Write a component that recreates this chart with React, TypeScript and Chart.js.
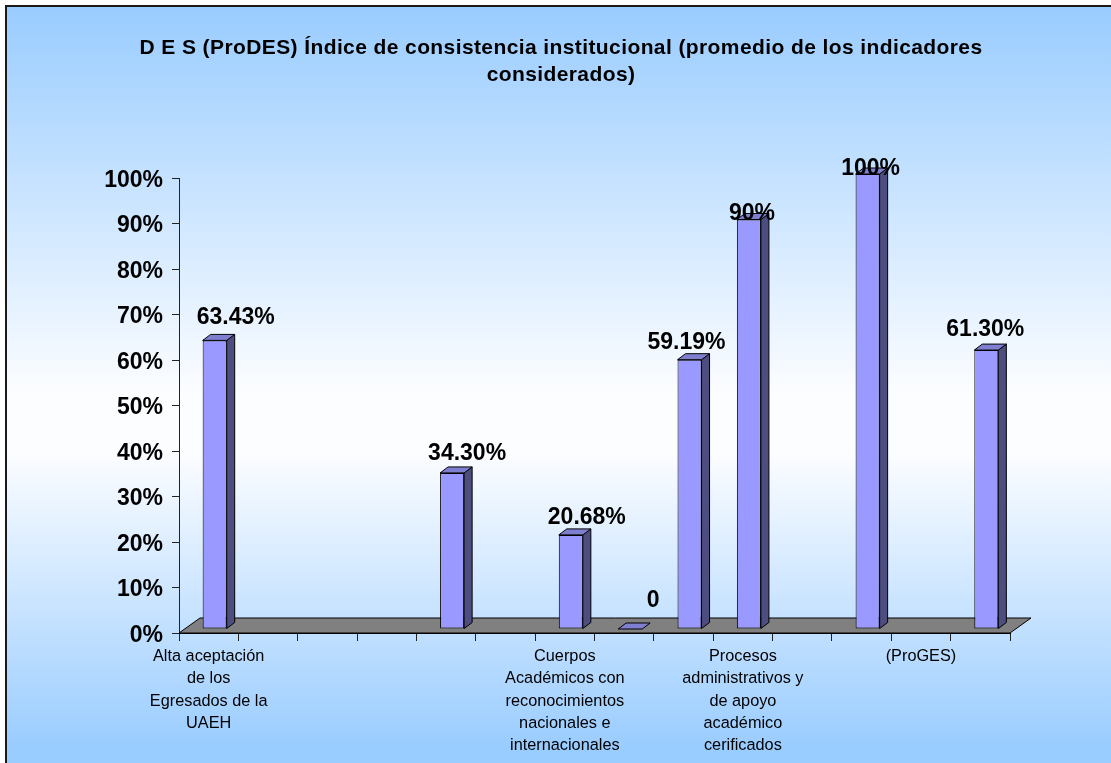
import React, { useEffect, useRef } from "react";
import { Chart, registerables } from "chart.js";

Chart.register(...registerables);

const FONT = "'Liberation Sans', Arial, Helvetica, sans-serif";

const titleLines = [
  "D E S (ProDES) Índice de consistencia institucional (promedio de los indicadores",
  "considerados)",
];

const categories: (string | string[])[] = [
  ["Alta aceptación", "de los", "Egresados de la", "UAEH"],
  "",
  "",
  "",
  "",
  "",
  ["Cuerpos", "Académicos con", "reconocimientos", "nacionales e", "internacionales"],
  "",
  "",
  ["Procesos", "administrativos y", "de apoyo", "académico", "cerificados"],
  "",
  "",
  ["(ProGES)"],
  "",
];

const values: (number | null)[] = [
  63.43, null, null, null, 34.3, null, 20.68, 0, 59.19, 90, null, 100, null, 61.3,
];

const yMin = 0;
const yMax = 100;
const yStep = 10;

// label nudges relative to the front-top centre of each bar (px)
const labelNudge: ([number, number] | null)[] = [
  [21, -23], null, null, null, [15, -19], null, [16, -17], [23, -28],
  [-3, -17], [3, -6], null, [3, -5], null, [-1, -20],
];

const BAR_SHIFT_X = 6;
const BAR_SHIFT_Y = -4;
const BAR_DEPTH_X = 8;
const BAR_DEPTH_Y = -6;
const FLOOR_DEPTH_X = 21;
const FLOOR_DEPTH_Y = -15;

function fmt(v: number): string {
  if (v === 0) return "0";
  if (Number.isInteger(v)) return `${v}%`;
  return `${v.toFixed(2)}%`;
}

const backgroundPlugin = {
  id: "bgTitle",
  beforeDraw(chart: any) {
    const ctx: CanvasRenderingContext2D = chart.ctx;
    const W = chart.width;
    const H = chart.height;
    ctx.save();
    ctx.fillStyle = "#ffffff";
    ctx.fillRect(0, 0, W, H);
    const g = ctx.createLinearGradient(0, 6, 0, 750);
    g.addColorStop(0, "#99CCFF");
    g.addColorStop(0.52, "#FCFDFF");
    g.addColorStop(0.6, "#FCFDFF");
    g.addColorStop(1, "#99CCFF");
    ctx.fillStyle = g;
    ctx.fillRect(5, 5, W - 5, H - 5);
    ctx.fillStyle = "#1a1a1a";
    ctx.fillRect(5, 5, W - 5, 2);
    ctx.fillRect(5, 5, 2, H - 5);

    // title
    ctx.fillStyle = "#000";
    ctx.font = `bold 21px ${FONT}`;
    ctx.textAlign = "center";
    ctx.textBaseline = "alphabetic";
    (ctx as any).letterSpacing = "0.4px";
    ctx.fillText(titleLines[0], 561, 54);
    ctx.fillText(titleLines[1], 561, 81);
    (ctx as any).letterSpacing = "0px";
    ctx.restore();
  },
};

const bar3dPlugin = {
  id: "bar3d",
  beforeDatasetsDraw(chart: any) {
    const ctx: CanvasRenderingContext2D = chart.ctx;
    const { left, right } = chart.chartArea;
    const y0 = chart.scales.y.getPixelForValue(yMin);
    ctx.save();
    ctx.beginPath();
    ctx.moveTo(left, y0);
    ctx.lineTo(left + FLOOR_DEPTH_X, y0 + FLOOR_DEPTH_Y);
    ctx.lineTo(right + FLOOR_DEPTH_X, y0 + FLOOR_DEPTH_Y);
    ctx.lineTo(right, y0);
    ctx.closePath();
    ctx.fillStyle = "#808080";
    ctx.fill();
    ctx.strokeStyle = "#000";
    ctx.lineWidth = 1;
    ctx.stroke();
    ctx.restore();
    ctx.save();
    ctx.translate(BAR_SHIFT_X, BAR_SHIFT_Y);
  },
  afterDatasetsDraw(chart: any) {
    const ctx: CanvasRenderingContext2D = chart.ctx;
    const meta = chart.getDatasetMeta(0);
    ctx.lineWidth = 1;
    ctx.strokeStyle = "#000";
    meta.data.forEach((bar: any, i: number) => {
      if (values[i] === null) return;
      const { x, y, base, width } = bar.getProps(["x", "y", "base", "width"], true);
      const x0 = x - width / 2;
      const x1 = x + width / 2;
      // side face
      if (base - y > 0.5) {
        ctx.beginPath();
        ctx.moveTo(x1, y);
        ctx.lineTo(x1 + BAR_DEPTH_X, y + BAR_DEPTH_Y);
        ctx.lineTo(x1 + BAR_DEPTH_X, base + BAR_DEPTH_Y);
        ctx.lineTo(x1, base);
        ctx.closePath();
        ctx.fillStyle = "#4D4D80";
        ctx.fill();
        ctx.stroke();
      }
      // top face
      ctx.beginPath();
      ctx.moveTo(x0, y);
      ctx.lineTo(x0 + BAR_DEPTH_X, y + BAR_DEPTH_Y);
      ctx.lineTo(x1 + BAR_DEPTH_X, y + BAR_DEPTH_Y);
      ctx.lineTo(x1, y);
      ctx.closePath();
      ctx.fillStyle = "#7F7FD0";
      ctx.fill();
      ctx.stroke();
    });
    ctx.restore();

    // data labels
    ctx.save();
    ctx.fillStyle = "#000";
    ctx.font = `bold 23px ${FONT}`;
    ctx.textAlign = "center";
    ctx.textBaseline = "middle";
    meta.data.forEach((bar: any, i: number) => {
      const v = values[i];
      if (v === null) return;
      const { x, y } = bar.getProps(["x", "y"], true);
      const n = labelNudge[i] || [0, -20];
      ctx.fillText(fmt(v), x + BAR_SHIFT_X + n[0], y + BAR_SHIFT_Y + n[1]);
    });
    ctx.restore();
  },
};

export default function App() {
  const ref = useRef<HTMLCanvasElement>(null);
  useEffect(() => {
    if (!ref.current) return;
    const chart = new Chart(ref.current, {
      type: "bar",
      data: {
        labels: categories as any,
        datasets: [
          {
            data: values as any,
            backgroundColor: "#9999FF",
            borderColor: "#000",
            borderWidth: 1,
            borderSkipped: false,
            barPercentage: 0.405,
            categoryPercentage: 1,
            clip: false as any,
          },
        ],
      },
      options: {
        responsive: false,
        devicePixelRatio: 1,
        animation: false,
        layout: { padding: { top: 178, right: 101, bottom: 0, left: 0 } },
        plugins: {
          legend: { display: false },
          tooltip: { enabled: false },
          title: { display: false },
        },
        scales: {
          x: {
            type: "category",
            offset: true,
            grid: {
              display: true,
              drawOnChartArea: false,
              drawTicks: true,
              tickLength: 8,
              color: "#222",
              offset: true,
            },
            border: { display: true, color: "#000" },
            ticks: {
              autoSkip: false,
              maxRotation: 0,
              minRotation: 0,
              color: "#000",
              padding: 5,
              font: { family: FONT, size: 16.3, lineHeight: 1.35 },
            },
            afterFit: (s: any) => {
              s.height = 130;
            },
          },
          y: {
            min: yMin,
            max: yMax,
            ticks: {
              stepSize: yStep,
              color: "#000",
              padding: 9,
              labelOffset: 2.5,
              font: { family: FONT, size: 23, weight: "bold" },
              callback: (v: any) => `${v}%`,
            },
            grid: {
              drawOnChartArea: false,
              drawTicks: true,
              tickLength: 7,
              color: "#222",
            },
            border: { display: true, color: "#222" },
            afterFit: (s: any) => {
              s.width = 179;
            },
          },
        },
      },
      plugins: [backgroundPlugin, bar3dPlugin],
    });
    return () => chart.destroy();
  }, []);
  return (
    <div style={{ position: "absolute", left: 0, top: 0, width: 1111, height: 763, overflow: "hidden" }}>
      <canvas ref={ref} width={1111} height={763} style={{ display: "block", width: 1111, height: 763 }} />
    </div>
  );
}
